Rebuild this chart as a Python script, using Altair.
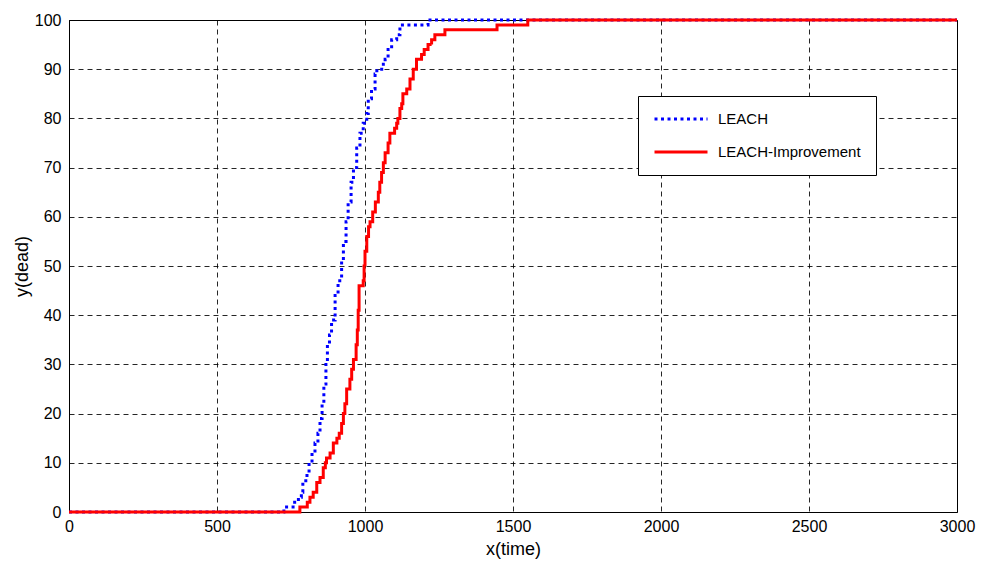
import altair as alt
import pandas as pd

# Dead-node counts over time for the two clustering protocols (step data)
leach_time = [0, 726, 757, 775, 785, 790, 800, 804, 811, 821, 831, 841, 848, 855,
              861, 868, 873, 880, 887, 899, 909, 921, 927, 936, 943, 953, 961, 972,
              983, 994, 1006, 1011, 1022, 1034, 1040, 1062, 1068, 1078, 1090, 1107,
              1118, 1213, 3000]
leach_dead = [0, 1, 2, 3, 4, 6, 7, 8, 10, 12, 14, 16, 19, 22,
              26, 30, 34, 36, 39, 44, 47, 51, 55, 59, 63, 67, 70, 74,
              77, 79, 81, 84, 86, 89, 90, 91, 92, 94, 96, 97,
              99, 100, 100]

imp_time = [0, 780, 805, 814, 825, 837, 848, 859, 866, 870, 882, 893, 905, 913,
            921, 927, 932, 938, 949, 955, 961, 970, 974, 977, 980, 994, 997, 1000,
            1006, 1012, 1017, 1026, 1035, 1045, 1050, 1056, 1062, 1068, 1078, 1084,
            1100, 1107, 1111, 1118, 1124, 1128, 1141, 1152, 1163, 1174, 1191, 1200,
            1213, 1225, 1236, 1270, 1446, 1550, 3000]
imp_dead = [0, 1, 2, 3, 4, 6, 7, 9, 10, 11, 12, 14, 15, 16,
            18, 20, 22, 25, 27, 29, 31, 34, 37, 41, 46, 47, 50, 53,
            56, 58, 59, 61, 63, 65, 67, 69, 71, 73, 75, 77,
            78, 79, 80, 82, 83, 85, 86, 88, 90, 92, 93, 94,
            95, 96, 97, 98, 99, 100, 100]

series_names = ["LEACH", "LEACH-Improvement"]
series_colors = ["#0000ff", "#ff0000"]
series_dash = [[3, 3.5], [1, 0]]

df = pd.concat([
    pd.DataFrame({"time": leach_time, "dead": leach_dead, "series": series_names[0]}),
    pd.DataFrame({"time": imp_time, "dead": imp_dead, "series": series_names[1]}),
])

FONT = "Liberation Sans"

# legend box sits inside the plot, upper right
legend = alt.Legend(title=None, orient="none", legendX=569, legendY=76)

base = alt.Chart(df).mark_line(interpolate="step-after", strokeWidth=3).encode(
    x=alt.X("time:Q", title="x(time)",
            scale=alt.Scale(domain=[0, 3000], nice=False),
            axis=alt.Axis(values=list(range(0, 3001, 500)), format="d")),
    y=alt.Y("dead:Q", title="y(dead)",
            scale=alt.Scale(domain=[0, 100], nice=False),
            axis=alt.Axis(values=list(range(0, 101, 10)), format="d")),
    color=alt.Color("series:N", scale=alt.Scale(domain=series_names, range=series_colors),
                    legend=legend),
    strokeDash=alt.StrokeDash("series:N", scale=alt.Scale(domain=series_names, range=series_dash),
                              legend=legend),
)

# draw LEACH first so the improved protocol's line sits on top
leach_layer = base.transform_filter(alt.datum.series == series_names[0])
imp_layer = base.transform_filter(alt.datum.series == series_names[1])

chart = alt.layer(leach_layer, imp_layer).properties(
    width=888,
    height=492,
    autosize=alt.AutoSizeParams(type="none"),
    padding={"left": 69, "top": 20, "right": 26, "bottom": 51},
    background="white",
).configure_view(
    stroke="black", strokeWidth=1
).configure_axis(
    labelFont=FONT, titleFont=FONT, labelFontSize=16, titleFontSize=18,
    labelColor="black", titleColor="black", titleFontWeight="normal",
    domainColor="black", domainWidth=1,
    ticks=False, labelPadding=6,
    gridColor="black", gridOpacity=0.85, gridWidth=1, gridDash=[5, 4],
).configure_axisX(
    titlePadding=6, labelFlush=False
).configure_axisY(
    titlePadding=3, labelPadding=8
).configure_legend(
    labelFont=FONT, labelFontSize=15, labelColor="black",
    symbolType="stroke", symbolSize=2809, symbolStrokeWidth=3,
    strokeColor="black", fillColor="white", padding=15,
    clipHeight=16, rowPadding=17, labelOffset=9,
)

chart.save("out.html", embed_options={"renderer": "svg", "actions": False})
